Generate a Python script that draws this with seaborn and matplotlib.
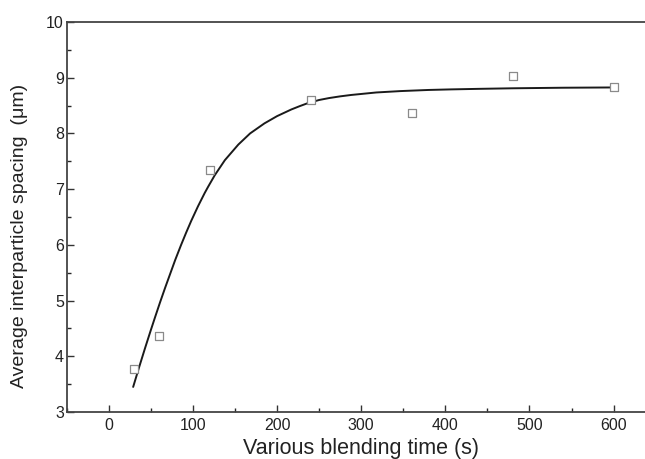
import pandas as pd
import matplotlib
matplotlib.use("Agg")
import matplotlib.pyplot as plt
import seaborn as sns

# -------- DATA --------
time_s = [30, 60, 120, 240, 360, 480, 600]
spacing_um = [3.77, 4.36, 7.35, 8.60, 8.37, 9.03, 8.83]

# fitted curve, points
fit_x = [29, 36, 43, 50, 55, 61, 67, 73, 79, 86, 92, 98, 106, 114, 118, 126, 138, 154,
         168, 185, 200, 217, 227, 236, 250, 262, 275, 288, 318, 347, 380, 406, 440, 480, 540, 600]
fit_y = [3.45, 3.80, 4.14, 4.47, 4.70, 4.97, 5.23, 5.48, 5.73, 6.00, 6.22, 6.43, 6.69, 6.93,
         7.04, 7.25, 7.52, 7.80, 8.00, 8.18, 8.31, 8.43, 8.49, 8.54, 8.60, 8.635, 8.665, 8.69,
         8.735, 8.76, 8.78, 8.79, 8.80, 8.81, 8.82, 8.825]

x_ticks = [0, 100, 200, 300, 400, 500, 600]
y_ticks = [3, 4, 5, 6, 7, 8, 9, 10]

df_pts = pd.DataFrame({"time": time_s, "spacing": spacing_um})
df_fit = pd.DataFrame({"time": fit_x, "spacing": fit_y})

# -------- STYLE --------
sns.set_style("ticks")
plt.rcParams["font.family"] = ["Liberation Sans", "DejaVu Sans"]
plt.rcParams["xtick.direction"] = "in"
plt.rcParams["ytick.direction"] = "in"

fig = plt.figure(figsize=(6.45, 4.59), dpi=100)
ax = fig.add_axes([0.1034, 0.1024, 0.9131, 0.8497])

sns.lineplot(data=df_fit, x="time", y="spacing", color="#1a1a1a", linewidth=1.4, ax=ax)
sns.scatterplot(data=df_pts, x="time", y="spacing", marker="s", s=30,
                facecolor="white", edgecolor="#8a8a8a", linewidth=0.9, ax=ax, zorder=3)

ax.set_xlim(-50, 650)
ax.set_ylim(3, 10)
ax.set_xticks(x_ticks)
ax.set_yticks(y_ticks)
ax.set_xticks(range(-50, 651, 50), minor=True)
ax.set_yticks([v / 2 for v in range(6, 21)], minor=True)
ax.tick_params(which="major", length=5, width=1.0, labelsize=11.5, colors="#333333", pad=4)
ax.tick_params(which="minor", length=3, width=1.0)
ax.tick_params(axis="y", pad=2)
for lab in ax.get_xticklabels() + ax.get_yticklabels():
    lab.set_color("#222222")

for side in ["left", "bottom", "top", "right"]:
    ax.spines[side].set_linewidth(1.3)
    ax.spines[side].set_color("#444444")

ax.set_xlabel("Various blending time (s)", fontsize=15.5, color="#222222", labelpad=4)
ax.set_ylabel("Average interparticle spacing  (μm)", fontsize=14, color="#222222")
ax.yaxis.set_label_coords(-0.065, 0.451)

plt.savefig("out.png", dpi=100)
